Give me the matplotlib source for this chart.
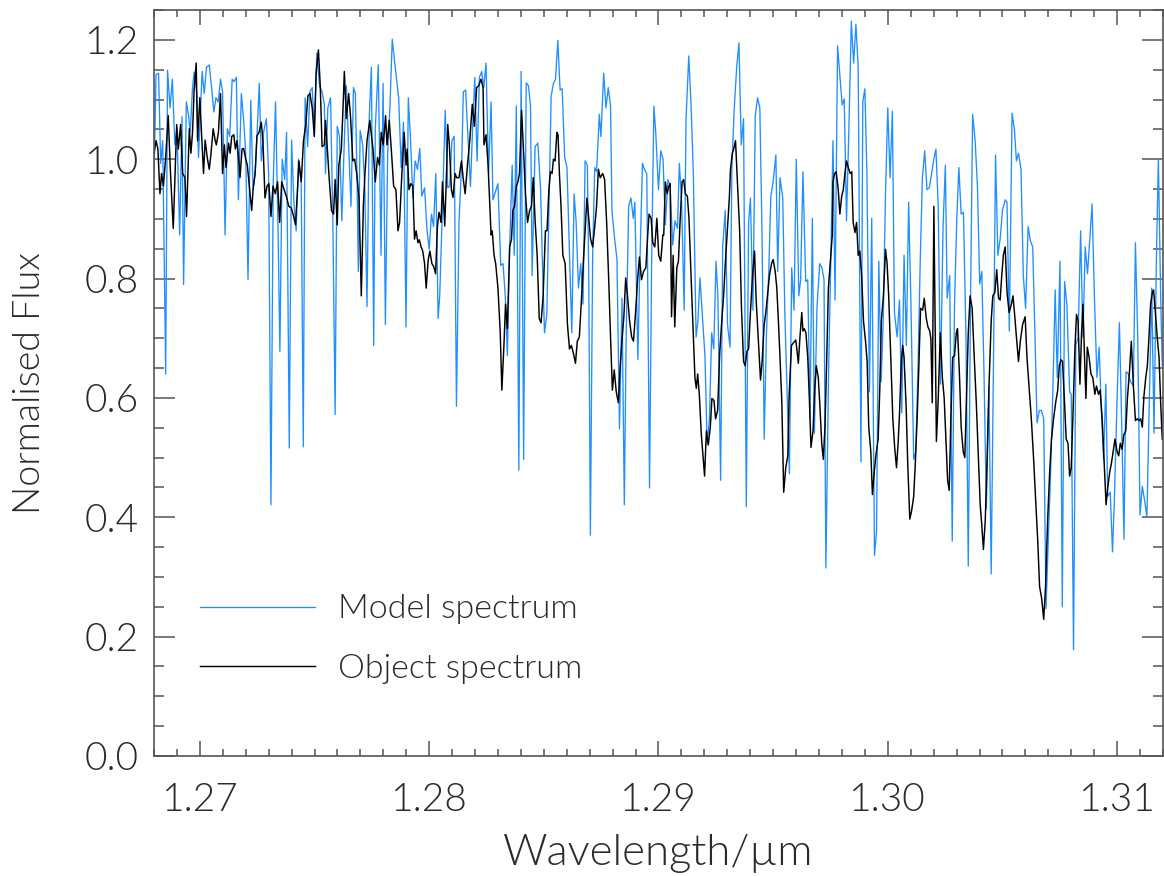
import matplotlib
matplotlib.use("Agg")
import matplotlib.pyplot as plt
from matplotlib import font_manager
from matplotlib.ticker import MultipleLocator

# model spectrum (blue)
model_wl = [
  1.26800, 1.26809, 1.26820, 1.26829, 1.26838, 1.26851, 1.26859, 1.26870, 1.26880, 1.26891,
  1.26900, 1.26912, 1.26922, 1.26929, 1.26941, 1.26951, 1.26958, 1.26968, 1.26975, 1.26986,
  1.26994, 1.27010, 1.27019, 1.27029, 1.27041, 1.27051, 1.27061, 1.27070, 1.27080, 1.27090,
  1.27099, 1.27110, 1.27120, 1.27130, 1.27141, 1.27149, 1.27159, 1.27168, 1.27181, 1.27191,
  1.27200, 1.27210, 1.27222, 1.27232, 1.27241, 1.27249, 1.27259, 1.27268, 1.27278, 1.27290,
  1.27300, 1.27310, 1.27320, 1.27330, 1.27341, 1.27349, 1.27359, 1.27370, 1.27378, 1.27390,
  1.27400, 1.27410, 1.27420, 1.27430, 1.27442, 1.27451, 1.27459, 1.27470, 1.27480, 1.27490,
  1.27499, 1.27510, 1.27522, 1.27533, 1.27543,
  1.27548, 1.27558, 1.27570, 1.27580, 1.27590, 1.27599, 1.27609, 1.27619, 1.27630, 1.27639,
  1.27649, 1.27659, 1.27670, 1.27678, 1.27686, 1.27691, 1.27699, 1.27710, 1.27719, 1.27729,
  1.27739, 1.27748, 1.27758, 1.27765, 1.27778, 1.27790, 1.27799, 1.27809, 1.27819, 1.27829,
  1.27839, 1.27852, 1.27867, 1.27878, 1.27888, 1.27899, 1.27909, 1.27919, 1.27929, 1.27939,
  1.27949, 1.27959, 1.27968, 1.27980, 1.27990, 1.28000, 1.28010, 1.28019, 1.28029, 1.28039,
  1.28046, 1.28058, 1.28070, 1.28081, 1.28090, 1.28099, 1.28109, 1.28119, 1.28130, 1.28142,
  1.28149, 1.28159, 1.28170, 1.28180, 1.28190, 1.28199, 1.28209, 1.28219, 1.28229, 1.28238,
  1.28248, 1.28259, 1.28270, 1.28278,
  1.28300, 1.28312, 1.28322, 1.28332, 1.28341, 1.28351, 1.28362, 1.28371, 1.28380, 1.28391,
  1.28401, 1.28412, 1.28423, 1.28433, 1.28442, 1.28449, 1.28462, 1.28474, 1.28486, 1.28493,
  1.28503, 1.28513, 1.28522, 1.28532, 1.28542, 1.28551, 1.28561, 1.28571, 1.28580, 1.28591,
  1.28601, 1.28612, 1.28622, 1.28632, 1.28641, 1.28651, 1.28661, 1.28671, 1.28680, 1.28690,
  1.28696, 1.28703, 1.28713, 1.28722, 1.28730, 1.28742, 1.28749, 1.28761, 1.28771, 1.28781,
  1.28791, 1.28797, 1.28807, 1.28819, 1.28830, 1.28841, 1.28851, 1.28859, 1.28870, 1.28880,
  1.28890, 1.28897, 1.28910, 1.28919, 1.28930, 1.28939, 1.28949, 1.28961, 1.28970, 1.28980,
  1.28988, 1.29000, 1.29010, 1.29020,
  1.29030, 1.29041, 1.29051, 1.29062, 1.29072, 1.29083, 1.29091, 1.29101, 1.29112, 1.29120,
  1.29132, 1.29142, 1.29152, 1.29164, 1.29172, 1.29181, 1.29193, 1.29203, 1.29212, 1.29222,
  1.29232, 1.29241, 1.29251, 1.29259, 1.29271, 1.29280, 1.29291, 1.29301, 1.29312, 1.29320,
  1.29330, 1.29341, 1.29351, 1.29361, 1.29371, 1.29383, 1.29393, 1.29401, 1.29412, 1.29422,
  1.29432, 1.29442, 1.29452, 1.29461, 1.29471, 1.29481, 1.29490, 1.29500, 1.29512, 1.29520,
  1.29530, 1.29542, 1.29551, 1.29561, 1.29571, 1.29581, 1.29591, 1.29601, 1.29612, 1.29620,
  1.29630, 1.29642, 1.29651, 1.29661, 1.29671, 1.29680, 1.29691, 1.29703, 1.29713, 1.29722,
  1.29730, 1.29742, 1.29752, 1.29761,
  1.29770, 1.29781, 1.29791, 1.29801, 1.29810, 1.29820, 1.29830, 1.29841, 1.29851, 1.29861,
  1.29871, 1.29883, 1.29891, 1.29900, 1.29909, 1.29920, 1.29930, 1.29942, 1.29951, 1.29961,
  1.29971, 1.29980, 1.29990, 1.30000, 1.30010, 1.30020, 1.30029, 1.30041, 1.30051, 1.30061,
  1.30071, 1.30081, 1.30091, 1.30101, 1.30113, 1.30122, 1.30132, 1.30142, 1.30151, 1.30161,
  1.30171, 1.30181, 1.30191, 1.30201, 1.30210, 1.30220, 1.30230, 1.30241, 1.30251, 1.30259,
  1.30270, 1.30281, 1.30291, 1.30301, 1.30310, 1.30320, 1.30330, 1.30341, 1.30351, 1.30361,
  1.30370, 1.30381, 1.30391, 1.30401, 1.30410, 1.30420, 1.30430, 1.30441, 1.30451, 1.30461,
  1.30470, 1.30480, 1.30490, 1.30500,
  1.30512, 1.30520, 1.30530, 1.30542, 1.30552, 1.30561, 1.30570, 1.30581, 1.30591, 1.30601,
  1.30612, 1.30622, 1.30632, 1.30642, 1.30651, 1.30661, 1.30670, 1.30680, 1.30690, 1.30700,
  1.30710, 1.30720, 1.30730, 1.30739, 1.30751, 1.30761, 1.30771, 1.30781, 1.30793, 1.30800,
  1.30810, 1.30820, 1.30830, 1.30841, 1.30851, 1.30861, 1.30871, 1.30881, 1.30891, 1.30901,
  1.30912, 1.30922, 1.30930, 1.30941, 1.30951, 1.30959, 1.30970, 1.30980, 1.30988, 1.31000,
  1.31010, 1.31020, 1.31030, 1.31039, 1.31049, 1.31059, 1.31071, 1.31080, 1.31090, 1.31100,
  1.31110, 1.31120, 1.31130, 1.31139, 1.31151, 1.31161, 1.31171, 1.31180, 1.31190, 1.31197,
]
model_flux = [
  0.969, 1.142, 1.144, 0.993, 1.031, 0.640, 1.149, 1.086, 1.134, 1.024,
  1.051, 0.873, 1.071, 0.790, 1.096, 1.072, 1.045, 1.120, 1.146, 1.113,
  1.003, 1.147, 1.110, 1.154, 1.158, 1.120, 1.079, 1.103, 1.096, 1.134,
  1.113, 0.873, 1.051, 1.038, 1.134, 1.130, 1.137, 0.932, 1.110, 1.065,
  1.010, 0.798, 1.099, 0.949, 0.976, 1.038, 1.127, 0.997, 1.045, 1.068,
  0.976, 0.421, 0.962, 1.096, 0.880, 0.678, 1.000, 0.966, 1.045, 0.516,
  1.032, 0.928, 0.880, 1.000, 0.962, 0.518, 1.103, 1.021, 1.113, 1.120,
  1.041, 1.178, 1.123, 1.113, 1.092,
  0.976, 1.086, 1.103, 0.894, 0.572, 1.055, 1.038, 0.897, 1.031, 1.123,
  1.024, 0.921, 1.120, 1.110, 0.955, 0.812, 1.048, 1.024, 0.955, 0.753,
  1.072, 1.154, 0.688, 1.051, 1.158, 0.839, 1.127, 0.723, 1.010, 1.089,
  1.201, 1.154, 1.103, 0.986, 1.062, 0.719, 1.103, 1.031, 0.935, 0.997,
  0.983, 1.018, 0.938, 0.952, 0.884, 0.849, 0.908, 0.887, 0.976, 0.733,
  0.771, 0.921, 1.082, 0.952, 0.955, 1.031, 1.038, 0.586, 0.894, 0.997,
  1.113, 1.116, 1.031, 0.954, 1.058, 1.137, 0.997, 1.137, 1.147, 1.120,
  1.161, 0.976, 1.096, 0.932,
  0.959, 0.822, 0.825, 0.771, 0.671, 0.853, 0.990, 0.839, 1.089, 0.479,
  1.147, 0.497, 1.128, 1.123, 1.089, 0.805, 1.021, 1.027, 0.949, 0.839,
  0.709, 0.740, 0.908, 1.106, 1.127, 1.134, 1.199, 1.116, 1.118, 1.003,
  0.986, 0.839, 0.709, 0.942, 0.894, 0.784, 0.825, 0.757, 0.997, 0.990,
  0.798, 0.370, 0.839, 0.986, 0.979, 1.075, 1.038, 1.144, 1.086, 1.120,
  1.089, 0.914, 0.873, 0.832, 0.548, 0.767, 0.421, 0.702, 0.921, 0.935,
  0.901, 0.928, 0.664, 0.825, 0.993, 0.983, 0.976, 0.449, 0.825, 1.089,
  1.045, 0.949, 1.014, 1.000,
  0.890, 0.966, 0.955, 0.856, 0.897, 0.884, 0.993, 0.928, 0.747, 1.065,
  1.173, 1.092, 0.976, 0.702, 0.729, 0.801, 0.729, 0.668, 0.524, 0.562,
  0.709, 0.682, 0.829, 0.771, 0.462, 0.853, 0.914, 0.723, 0.685, 0.983,
  1.082, 1.154, 1.195, 1.024, 1.068, 0.418, 0.894, 0.935, 0.747, 1.072,
  1.103, 1.086, 0.866, 0.531, 0.709, 0.812, 0.938, 0.962, 1.007, 0.812,
  0.969, 0.935, 0.743, 0.606, 0.473, 0.818, 0.747, 1.000, 0.771, 0.798,
  0.979, 0.795, 0.798, 0.565, 0.901, 0.541, 0.750, 0.825, 0.818, 0.798,
  0.315, 0.647, 0.839, 1.031,
  0.764, 1.190, 1.140, 1.091, 1.101, 0.897, 1.045, 1.231, 1.161, 1.226,
  1.154, 0.493, 1.096, 1.118, 0.976, 0.610, 0.901, 0.336, 0.377, 0.829,
  0.627, 0.729, 0.942, 1.086, 0.969, 1.080, 0.743, 0.702, 0.764, 0.575,
  0.839, 0.688, 0.928, 0.757, 0.497, 0.510, 0.654, 0.839, 0.969, 1.014,
  0.949, 0.952, 0.976, 1.000, 1.017, 0.921, 0.623, 0.887, 0.990, 0.767,
  0.805, 0.360, 0.757, 0.901, 0.986, 0.908, 0.911, 0.702, 0.318, 0.771,
  1.075, 1.031, 0.955, 0.791, 0.812, 0.634, 0.414, 0.620, 0.305, 0.661,
  1.007, 0.839, 0.866, 0.914,
  0.932, 0.928, 0.712, 1.077, 1.051, 0.997, 1.010, 0.983, 0.805, 0.750,
  0.887, 0.863, 0.853, 0.702, 0.558, 0.579, 0.579, 0.565, 0.247, 0.360,
  0.476, 0.613, 0.781, 0.634, 0.829, 0.250, 0.795, 0.757, 0.610, 0.606,
  0.178, 0.688, 0.702, 0.880, 0.702, 0.853, 0.808, 0.866, 0.925, 0.771,
  0.634, 0.685, 0.592, 0.497, 0.623, 0.435, 0.442, 0.342, 0.428, 0.599,
  0.726, 0.558, 0.363, 0.644, 0.640, 0.627, 0.620, 0.860, 0.702, 0.404,
  0.452, 0.428, 0.401, 0.565, 0.784, 0.541, 0.825, 1.000, 0.771, 0.654,
]

# object spectrum (black)
object_wl = [
  1.26800, 1.26809, 1.26817, 1.26826, 1.26833, 1.26841, 1.26851, 1.26862, 1.26872, 1.26884,
  1.26893, 1.26899, 1.26906, 1.26916, 1.26925, 1.26935, 1.26942, 1.26954, 1.26961, 1.26968,
  1.26975, 1.26984, 1.26990, 1.27000, 1.27007, 1.27016, 1.27023, 1.27032, 1.27041, 1.27048,
  1.27058, 1.27067, 1.27072, 1.27081, 1.27090, 1.27099, 1.27107, 1.27114, 1.27125, 1.27132,
  1.27139, 1.27148, 1.27155, 1.27162, 1.27170, 1.27175, 1.27184, 1.27191, 1.27200, 1.27207,
  1.27217, 1.27226, 1.27232, 1.27241, 1.27249, 1.27258, 1.27268, 1.27275, 1.27284, 1.27293,
  1.27301, 1.27310, 1.27319, 1.27329, 1.27339, 1.27348, 1.27357, 1.27365, 1.27377, 1.27388,
  1.27399, 1.27409, 1.27417, 1.27425, 1.27432, 1.27442, 1.27452, 1.27462, 1.27471, 1.27480,
  1.27490, 1.27499, 1.27507, 1.27517, 1.27525, 1.27533, 1.27543,
  1.27548, 1.27557, 1.27565, 1.27574, 1.27583, 1.27590, 1.27599, 1.27606, 1.27617, 1.27625,
  1.27630, 1.27639, 1.27649, 1.27657, 1.27667, 1.27675, 1.27684, 1.27694, 1.27704, 1.27713,
  1.27720, 1.27729, 1.27741, 1.27748, 1.27755, 1.27765, 1.27775, 1.27783, 1.27791, 1.27800,
  1.27810, 1.27816, 1.27826, 1.27836, 1.27845, 1.27855, 1.27864, 1.27871, 1.27881, 1.27891,
  1.27899, 1.27904, 1.27912, 1.27920, 1.27929, 1.27936, 1.27943, 1.27951, 1.27957, 1.27965,
  1.27972, 1.27980, 1.27987, 1.27996, 1.28003, 1.28012, 1.28020, 1.28028, 1.28036, 1.28043,
  1.28052, 1.28058, 1.28068, 1.28077, 1.28081, 1.28088, 1.28097, 1.28104, 1.28113, 1.28120,
  1.28130, 1.28141, 1.28148, 1.28157, 1.28167, 1.28177, 1.28188, 1.28197, 1.28207, 1.28216,
  1.28226, 1.28235, 1.28239, 1.28248, 1.28257, 1.28264, 1.28270, 1.28275, 1.28283,
  1.28290, 1.28300, 1.28310, 1.28317, 1.28326, 1.28333, 1.28341, 1.28351, 1.28359, 1.28365,
  1.28372, 1.28380, 1.28387, 1.28394, 1.28403, 1.28412, 1.28420, 1.28429, 1.28438, 1.28446,
  1.28454, 1.28462, 1.28471, 1.28480, 1.28488, 1.28497, 1.28507, 1.28514, 1.28522, 1.28529,
  1.28536, 1.28542, 1.28549, 1.28557, 1.28562, 1.28568, 1.28575, 1.28583, 1.28593, 1.28603,
  1.28612, 1.28620, 1.28629, 1.28638, 1.28646, 1.28655, 1.28665, 1.28674, 1.28681, 1.28688,
  1.28696, 1.28704, 1.28713, 1.28722, 1.28730, 1.28738, 1.28746, 1.28757, 1.28765, 1.28774,
  1.28783, 1.28791, 1.28799, 1.28807, 1.28816, 1.28825, 1.28833, 1.28842, 1.28849, 1.28857,
  1.28865, 1.28874, 1.28883, 1.28891, 1.28900, 1.28909, 1.28917, 1.28926, 1.28935, 1.28945,
  1.28952, 1.28959, 1.28968, 1.28975, 1.28984, 1.28993, 1.29001, 1.29010, 1.29019,
  1.29023, 1.29030, 1.29038, 1.29045, 1.29051, 1.29057, 1.29064, 1.29071, 1.29080, 1.29087,
  1.29094, 1.29103, 1.29110, 1.29117, 1.29126, 1.29133, 1.29142, 1.29151, 1.29159, 1.29165,
  1.29171, 1.29178, 1.29187, 1.29194, 1.29201, 1.29209, 1.29217, 1.29226, 1.29233, 1.29242,
  1.29249, 1.29258, 1.29267, 1.29275, 1.29284, 1.29291, 1.29300, 1.29309, 1.29314, 1.29322,
  1.29328, 1.29336, 1.29345, 1.29354, 1.29362, 1.29371, 1.29378, 1.29386, 1.29393, 1.29401,
  1.29410, 1.29419, 1.29426, 1.29435, 1.29445, 1.29452, 1.29461, 1.29468, 1.29477, 1.29484,
  1.29493, 1.29500, 1.29509, 1.29516, 1.29523, 1.29530, 1.29538, 1.29546, 1.29555, 1.29564,
  1.29570, 1.29580, 1.29588, 1.29599, 1.29610, 1.29617, 1.29625, 1.29630, 1.29636, 1.29643,
  1.29651, 1.29658, 1.29665, 1.29674, 1.29681, 1.29688, 1.29697, 1.29704, 1.29712, 1.29719,
  1.29726, 1.29733, 1.29741, 1.29749, 1.29758,
  1.29761, 1.29768, 1.29775, 1.29784, 1.29791, 1.29799, 1.29806, 1.29813, 1.29820, 1.29828,
  1.29836, 1.29843, 1.29849, 1.29857, 1.29864, 1.29871, 1.29878, 1.29886, 1.29894, 1.29903,
  1.29910, 1.29917, 1.29926, 1.29933, 1.29941, 1.29948, 1.29958, 1.29965, 1.29972, 1.29981,
  1.29990, 1.29997, 1.30004, 1.30013, 1.30022, 1.30030, 1.30038, 1.30045, 1.30051, 1.30059,
  1.30065, 1.30071, 1.30080, 1.30087, 1.30096, 1.30104, 1.30113, 1.30120, 1.30128, 1.30135,
  1.30143, 1.30152, 1.30159, 1.30168, 1.30175, 1.30183, 1.30188, 1.30194, 1.30201, 1.30212,
  1.30220, 1.30229, 1.30238, 1.30246, 1.30254, 1.30261, 1.30268, 1.30275, 1.30283, 1.30291,
  1.30299, 1.30304, 1.30313, 1.30320, 1.30329, 1.30336, 1.30343, 1.30351, 1.30359, 1.30368,
  1.30377, 1.30386, 1.30394, 1.30403, 1.30410, 1.30417, 1.30425, 1.30433, 1.30442, 1.30451,
  1.30458, 1.30467, 1.30475, 1.30483, 1.30490, 1.30497, 1.30504,
  1.30512, 1.30520, 1.30529, 1.30539, 1.30546, 1.30554, 1.30561, 1.30570, 1.30578, 1.30588,
  1.30599, 1.30607, 1.30616, 1.30626, 1.30636, 1.30645, 1.30654, 1.30662, 1.30671, 1.30680,
  1.30688, 1.30697, 1.30706, 1.30714, 1.30723, 1.30732, 1.30741, 1.30748, 1.30755, 1.30762,
  1.30770, 1.30778, 1.30786, 1.30793, 1.30800, 1.30807, 1.30816, 1.30823, 1.30830, 1.30838,
  1.30845, 1.30851, 1.30858, 1.30864, 1.30870, 1.30878, 1.30886, 1.30894, 1.30903, 1.30910,
  1.30919, 1.30926, 1.30935, 1.30943, 1.30952, 1.30959, 1.30968, 1.30975, 1.30983, 1.30991,
  1.31000, 1.31007, 1.31014, 1.31022, 1.31029, 1.31038, 1.31045, 1.31054, 1.31062, 1.31071,
  1.31080, 1.31088, 1.31096, 1.31103, 1.31110, 1.31117, 1.31125, 1.31132, 1.31139, 1.31146,
  1.31154, 1.31159, 1.31167, 1.31175, 1.31183, 1.31190, 1.31197,
]
object_flux = [
  1.010, 1.031, 1.017, 0.942, 0.976, 0.955, 1.003, 1.073, 0.976, 0.884,
  0.990, 1.058, 1.017, 1.058, 0.976, 0.969, 0.904, 1.051, 1.010, 1.045,
  1.116, 1.161, 1.031, 1.103, 1.045, 0.976, 1.032, 1.003, 0.983, 1.007,
  1.051, 1.031, 1.024, 1.045, 1.110, 0.976, 1.024, 0.986, 1.027, 1.010,
  1.038, 1.041, 1.017, 1.031, 0.997, 0.969, 1.017, 1.018, 1.000, 0.990,
  0.949, 0.914, 0.949, 0.976, 1.039, 1.045, 1.062, 1.031, 0.935, 0.955,
  0.959, 0.904, 0.955, 0.942, 0.962, 0.894, 0.962, 0.952, 0.938, 0.921,
  0.918, 0.904, 0.890, 0.942, 0.997, 0.962, 1.031, 1.058, 1.106, 1.110,
  1.086, 1.038, 1.144, 1.183, 1.123, 1.021, 1.024,
  1.065, 1.010, 0.962, 0.914, 0.908, 0.966, 0.890, 0.990, 1.017, 1.092,
  1.147, 1.068, 1.110, 1.072, 0.997, 1.000, 0.976, 0.935, 0.771, 0.921,
  0.976, 1.031, 1.065, 1.041, 1.017, 0.962, 1.003, 0.990, 1.045, 1.024,
  1.073, 1.024, 1.065, 1.010, 0.955, 0.949, 0.880, 0.894, 0.976, 1.045,
  0.990, 1.017, 0.949, 0.959, 0.955, 0.866, 0.880, 0.860, 0.865, 0.853,
  0.846, 0.825, 0.784, 0.832, 0.846, 0.825, 0.820, 0.808, 0.887, 0.911,
  0.894, 0.962, 0.888, 0.993, 1.058, 1.024, 0.949, 0.936, 0.976, 0.969,
  0.969, 0.997, 0.969, 0.942, 0.990, 1.031, 1.092, 1.055, 1.120, 1.123,
  1.134, 1.120, 1.024, 1.041, 0.990, 0.928, 0.873, 0.880, 0.839,
  0.825, 0.784, 0.709, 0.613, 0.688, 0.757, 0.716, 0.853, 0.866, 0.914,
  0.921, 0.955, 0.962, 0.976, 1.082, 1.010, 0.942, 0.894, 0.914, 0.921,
  0.969, 0.897, 0.839, 0.733, 0.726, 0.771, 0.880, 0.880, 0.949, 0.979,
  0.976, 1.000, 0.997, 1.045, 1.041, 0.976, 0.921, 0.839, 0.825, 0.723,
  0.682, 0.688, 0.675, 0.658, 0.695, 0.702, 0.771, 0.839, 0.887, 0.935,
  0.901, 0.866, 0.853, 0.887, 0.921, 0.983, 0.969, 0.976, 0.966, 0.894,
  0.798, 0.702, 0.613, 0.647, 0.610, 0.592, 0.654, 0.702, 0.736, 0.801,
  0.771, 0.729, 0.702, 0.695, 0.743, 0.798, 0.836, 0.798, 0.812, 0.818,
  0.866, 0.908, 0.901, 0.860, 0.853, 0.901, 0.839, 0.829, 0.873,
  0.873, 0.962, 0.942, 0.955, 0.959, 0.736, 0.839, 0.719, 0.818, 0.829,
  0.894, 0.962, 0.966, 0.942, 0.938, 0.901, 0.805, 0.716, 0.634, 0.616,
  0.640, 0.606, 0.538, 0.503, 0.469, 0.545, 0.521, 0.551, 0.599, 0.596,
  0.565, 0.579, 0.675, 0.723, 0.771, 0.822, 0.880, 0.935, 0.983, 1.010,
  1.017, 1.031, 0.955, 0.880, 0.750, 0.661, 0.654, 0.678, 0.682, 0.743,
  0.805, 0.846, 0.764, 0.702, 0.630, 0.661, 0.723, 0.743, 0.777, 0.805,
  0.825, 0.832, 0.812, 0.784, 0.729, 0.668, 0.592, 0.442, 0.483, 0.503,
  0.606, 0.688, 0.692, 0.697, 0.658, 0.702, 0.743, 0.712, 0.716, 0.709,
  0.668, 0.599, 0.517, 0.545, 0.613, 0.654, 0.634, 0.586, 0.524, 0.497,
  0.551, 0.654, 0.784, 0.825, 0.873,
  0.962, 0.976, 0.979, 0.949, 0.908, 0.938, 0.949, 0.976, 0.997, 0.986,
  0.976, 0.979, 0.894, 0.877, 0.894, 0.839, 0.846, 0.805, 0.729, 0.695,
  0.661, 0.551, 0.510, 0.438, 0.476, 0.503, 0.531, 0.613, 0.729, 0.771,
  0.849, 0.825, 0.771, 0.668, 0.565, 0.517, 0.483, 0.524, 0.572, 0.661,
  0.688, 0.668, 0.586, 0.490, 0.397, 0.411, 0.435, 0.490, 0.565, 0.647,
  0.750, 0.747, 0.767, 0.733, 0.719, 0.712, 0.699, 0.592, 0.921, 0.527,
  0.599, 0.709, 0.634, 0.599, 0.524, 0.462, 0.445, 0.565, 0.668, 0.671,
  0.709, 0.716, 0.634, 0.551, 0.510, 0.500, 0.599, 0.709, 0.771, 0.750,
  0.668, 0.592, 0.510, 0.421, 0.387, 0.346, 0.394, 0.497, 0.627, 0.729,
  0.771, 0.777, 0.815, 0.767, 0.764, 0.805, 0.839,
  0.853, 0.777, 0.743, 0.757, 0.771, 0.736, 0.702, 0.661, 0.695, 0.723,
  0.736, 0.668, 0.620, 0.565, 0.497, 0.428, 0.360, 0.284, 0.264, 0.229,
  0.284, 0.394, 0.476, 0.531, 0.565, 0.592, 0.613, 0.654, 0.664, 0.661,
  0.599, 0.531, 0.524, 0.469, 0.483, 0.565, 0.682, 0.740, 0.729, 0.623,
  0.709, 0.757, 0.668, 0.599, 0.685, 0.668, 0.640, 0.634, 0.606, 0.620,
  0.606, 0.613, 0.565, 0.497, 0.421, 0.449, 0.476, 0.490, 0.510, 0.531,
  0.510, 0.503, 0.524, 0.514, 0.538, 0.545, 0.599, 0.644, 0.695, 0.620,
  0.562, 0.565, 0.562, 0.565, 0.551, 0.603, 0.634, 0.654, 0.702, 0.757,
  0.777, 0.781, 0.743, 0.702, 0.668, 0.592, 0.531,
]

x_ticks = [1.27, 1.28, 1.29, 1.30, 1.31]
y_ticks = [0.0, 0.2, 0.4, 0.6, 0.8, 1.0, 1.2]


# pick a thin weight if one is installed, the original uses a hairline font
def pick_font():
  for fam in ["Lato", "Roboto", "Open Sans", "Inter", "Noto Sans"]:
    for f in font_manager.fontManager.ttflist:
      w = f.weight if isinstance(f.weight, int) else font_manager.weight_dict.get(f.weight, 400)
      if f.name == fam and f.style == "normal" and w == 300:
        return fam, 300
  return "DejaVu Sans", "normal"


family, weight = pick_font()
plt.rcParams["font.family"] = [family, "DejaVu Sans"]
plt.rcParams["font.weight"] = weight
plt.rcParams["axes.labelweight"] = weight
text_color = "#2a2a2a"
axis_color = "#555555"

fig = plt.figure(figsize=(11.64, 8.76), dpi=100)
ax = fig.add_axes([0.1323, 0.1370, 0.8668, 0.8516])

ax.plot(model_wl, model_flux, color="#1f8fff", lw=0.95, label="Model spectrum")
ax.plot(object_wl, object_flux, color="black", lw=1.05, label="Object spectrum")

ax.set_xlim(1.268, 1.3120)
ax.set_ylim(0.0, 1.25)
ax.set_xticks(x_ticks)
ax.set_xticklabels([f"{t:.2f}" for t in x_ticks])
ax.set_yticks(y_ticks)
ax.set_yticklabels([f"{t:.1f}" for t in y_ticks])
ax.xaxis.set_minor_locator(MultipleLocator(0.001))
ax.yaxis.set_minor_locator(MultipleLocator(0.05))

for s in ax.spines.values():
  s.set_color(axis_color)
  s.set_linewidth(1.2)

ax.tick_params(axis="x", which="major", direction="in", length=11, width=1.1,
               top=True, bottom=True, pad=19, labelsize=28,
               color=axis_color, labelcolor=text_color)
ax.tick_params(axis="x", which="minor", direction="in", length=5, width=1.1,
               top=True, bottom=True, color=axis_color)
ax.tick_params(axis="y", which="major", direction="in", length=15, width=1.1,
               left=True, right=True, pad=11, labelsize=28,
               color=axis_color, labelcolor=text_color)
ax.tick_params(axis="y", which="minor", direction="in", length=7.5, width=1.1,
               left=True, right=True, color=axis_color)

ax.set_xlabel("Wavelength/\u00b5m", fontsize=31.5, fontweight=weight, color=text_color)
ax.xaxis.set_label_coords(0.5, -0.104)
ax.set_ylabel("Normalised Flux", fontsize=27, fontweight=weight, color=text_color)
ax.yaxis.set_label_coords(-0.106, 0.5)

ax.legend(loc="upper left", bbox_to_anchor=(0.0456, 0.2165), frameon=False,
          prop={"size": 24.5, "weight": weight},
          handlelength=3.39, handletextpad=0.68,
          labelspacing=0.86, borderpad=0, borderaxespad=0,
          labelcolor=text_color)

fig.savefig("out.png", dpi=100)
